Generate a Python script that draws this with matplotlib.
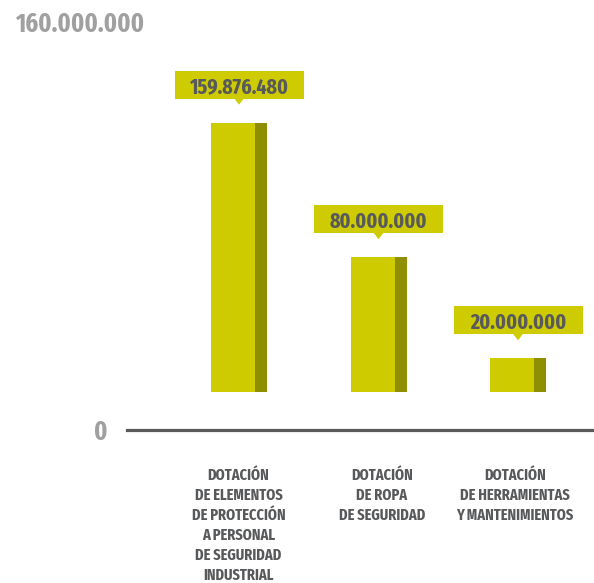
import matplotlib
matplotlib.use("Agg")
import matplotlib.pyplot as plt
from matplotlib.patches import Rectangle, Polygon
from matplotlib import font_manager as fm

categories = [
    ["DOTACIÓN", "DE ELEMENTOS", "DE PROTECCIÓN", "A PERSONAL", "DE SEGURIDAD", "INDUSTRIAL"],
    ["DOTACIÓN", "DE ROPA", "DE SEGURIDAD"],
    ["DOTACIÓN", "DE HERRAMIENTAS", "Y MANTENIMIENTOS"],
]
values = [159876480, 80000000, 20000000]
value_labels = ["159.876.480", "80.000.000", "20.000.000"]
y_max_label = "160.000.000"
y_min_label = "0"
y_max = 160000000

LIGHT = "#cecc00"
DARK = "#8f8e00"
TEXT = "#58595b"
GRAY = "#a0a0a0"

bold_fonts = {f.name for f in fm.fontManager.ttflist
              if isinstance(f.weight, int) and f.weight >= 600 and f.style == "normal"}
candidates = ["Sofia Sans Extra Condensed", "Fira Sans Extra Condensed", "Saira ExtraCondensed",
              "Barlow Condensed", "Roboto Condensed", "Liberation Sans Narrow"]
FONT = [c for c in candidates if c in bold_fonts][:1] + ["DejaVu Sans"]

W, H = 594, 583
fig = plt.figure(figsize=(W / 100, H / 100), dpi=100)
renderer = fig.canvas.get_renderer()


def fit(t, target_w, grow=1.0):
    bb = t.get_window_extent(renderer)
    t.set_fontsize(t.get_fontsize() * target_w / bb.width * grow)
    return t.get_fontsize()


# axes: y=0 at pixel 392, y=160M at pixel 122.4 ; x centres at 239 + 139.5*i
base_px, top_px = 392, 122.4
ax = fig.add_axes([0, (H - base_px) / H, 1, (base_px - top_px) / H])
xs = 139.5
x0 = 239
ax.set_xlim(-x0 / xs, (W - x0) / xs)
ax.set_ylim(0, y_max)
ax.axis("off")

py = y_max / (base_px - top_px)  # data units per pixel (y)
px = 1 / xs                       # data units per pixel (x)

light_w = 44 * px
dark_w = 12 * px
full = light_w + dark_w
val_size = None
for i, v in enumerate(values):
    left = i - full / 2
    ax.bar(left, v, width=light_w, align="edge", color=LIGHT, linewidth=0)
    ax.bar(left + light_w, v, width=dark_w, align="edge", color=DARK, linewidth=0)
    bw, bh, gap = 129 * px, 28 * py, 24 * py
    ax.add_patch(Rectangle((i - bw / 2, v + gap), bw, bh, facecolor=LIGHT,
                           edgecolor="none", clip_on=False))
    ax.add_patch(Polygon([(i - 5 * px, v + gap + 0.5 * py), (i + 5 * px, v + gap + 0.5 * py),
                          (i, v + gap - 6 * py)], closed=True, facecolor=LIGHT,
                         edgecolor="none", clip_on=False))
    t = ax.text(i, v + gap + 5.5 * py, value_labels[i], ha="center", va="baseline",
                fontsize=14, fontweight="bold", color=TEXT, family=FONT, clip_on=False)
    if val_size is None:
        val_size = fit(t, 89, 1.12)
    else:
        t.set_fontsize(val_size)

# y extreme labels
t = fig.text(15 / W, 1 - 32 / H, y_max_label, ha="left", va="baseline", fontsize=19,
             fontweight="bold", color=GRAY, family=FONT)
big = fit(t, 120, 1.08)
fig.text(101 / W, 1 - 440 / H, y_min_label, ha="center", va="baseline", fontsize=big,
         fontweight="bold", color=GRAY, family=FONT)

# axis line
fig.add_artist(plt.Line2D([127 / W, 1], [1 - 430 / H, 1 - 430 / H], color=TEXT,
                          linewidth=2.3, transform=fig.transFigure))

# category labels
probe = fig.text(0, 0, "DE SEGURIDAD", fontsize=10, fontweight="bold", family=FONT)
cat_size = fit(probe, 77, 1.12)
probe.remove()
cat_x = [238.5, 382, 515]
for cx, lines in zip(cat_x, categories):
    for k, line in enumerate(lines):
        fig.text(cx / W, 1 - (480.5 + 19.8 * k) / H, line, ha="center", va="baseline",
                 fontsize=cat_size, fontweight="bold", color=TEXT, family=FONT)

fig.savefig("out.png", dpi=100)
